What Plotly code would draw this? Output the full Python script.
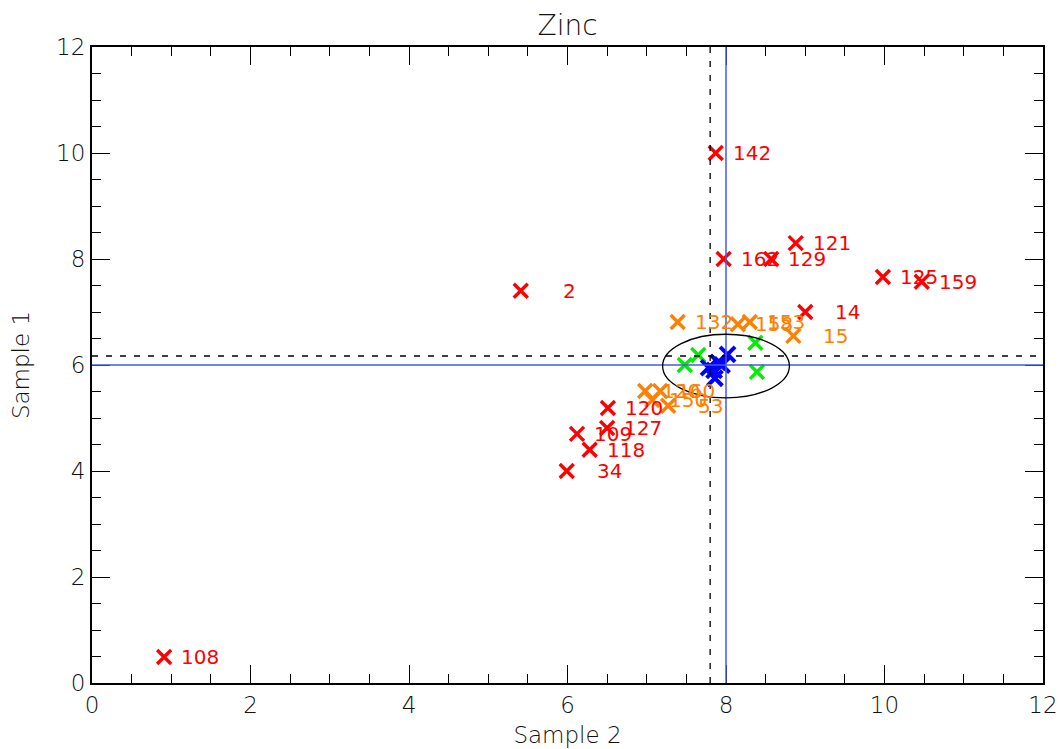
import plotly.graph_objects as go

# ---- data ----
red_x = [0.91, 5.99, 6.28, 6.12, 6.50, 6.51, 5.41, 7.87, 7.97, 8.57, 8.88, 9.98, 10.47, 9.00]
red_y = [0.49, 4.00, 4.40, 4.70, 4.81, 5.19, 7.40, 10.00, 8.00, 8.00, 8.30, 7.66, 7.57, 7.00]
red_labels = ["108", "34", "118", "109", "127", "120", "2", "142", "162", "129", "121", "125", "159", "14"]

orange_x = [7.39, 8.15, 8.30, 8.85, 6.98, 7.17, 7.07, 7.27]
orange_y = [6.81, 6.77, 6.81, 6.55, 5.51, 5.51, 5.34, 5.23]
orange_labels = ["132", "158", "153", "15", "120", "160", "150", "53"]

green_x = [7.48, 7.65, 8.37, 8.39]
green_y = [6.00, 6.19, 6.42, 5.87]

blue_x = [7.78, 7.86, 8.02, 7.95, 7.85, 7.90]
blue_y = [5.95, 5.75, 6.20, 6.00, 5.90, 6.05]

ref_dash_x = 7.80
ref_dash_y = 6.17
ref_blue_x = 8.0
ref_blue_y = 6.0
ellipse_cx, ellipse_cy = 8.0, 5.98
ellipse_rx, ellipse_ry = 0.80, 0.60

title = "Zinc"
x_title = "Sample 2"
y_title = "Sample 1"

# ---- figure ----
RED = "#ff0000"
ORANGE = "#ff8000"
GREEN = "#00ee00"
BLUE = "#0000ff"
LINEBLUE = "rgb(70,90,225)"
FONT = "DejaVu Sans"
TXT = "#111"

fig = go.Figure()

def add_group(xs, ys, color, size=14, width=3.4):
    fig.add_trace(go.Scatter(
        x=xs, y=ys, mode="markers", cliponaxis=False,
        marker=dict(symbol="x-thin", size=size, line=dict(color=color, width=width)),
        showlegend=False, hoverinfo="skip"))

shapes = [
    dict(type="line", xref="x", yref="paper", x0=ref_dash_x, x1=ref_dash_x, y0=0, y1=1,
         line=dict(color="black", width=1.3, dash="6px,8px")),
    dict(type="line", xref="paper", yref="y", x0=0, x1=1, y0=ref_dash_y, y1=ref_dash_y,
         line=dict(color="black", width=1.3, dash="6px,8px")),
    dict(type="line", xref="x", yref="paper", x0=ref_blue_x, x1=ref_blue_x, y0=0, y1=1,
         line=dict(color=LINEBLUE, width=1.5)),
    dict(type="line", xref="paper", yref="y", x0=0, x1=1, y0=ref_blue_y, y1=ref_blue_y,
         line=dict(color=LINEBLUE, width=1.5)),
    dict(type="circle", xref="x", yref="y",
         x0=ellipse_cx - ellipse_rx, x1=ellipse_cx + ellipse_rx,
         y0=ellipse_cy - ellipse_ry, y1=ellipse_cy + ellipse_ry,
         line=dict(color="black", width=1.3)),
]

add_group(red_x, red_y, RED)
add_group(orange_x, orange_y, ORANGE)
add_group(green_x, green_y, GREEN)
add_group(blue_x, blue_y, BLUE, size=15, width=4)

annotations = []
for xs, ys, labs, col in [(red_x, red_y, red_labels, RED), (orange_x, orange_y, orange_labels, ORANGE)]:
    for x, y, t in zip(xs, ys, labs):
        annotations.append(dict(x=x, y=y, text=t, showarrow=False, xanchor="right",
                                yanchor="middle", xshift=57, yshift=0,
                                font=dict(family=FONT, size=20, color=col)))

axis_common = dict(
    range=[0, 12], dtick=2, tick0=0, ticks="inside", ticklen=18, tickwidth=1.3,
    tickcolor="black", showline=True, linecolor="black", linewidth=2, mirror="ticks",
    showgrid=False, zeroline=False, automargin=False,
    minor=dict(dtick=0.5, ticks="inside", ticklen=9, tickwidth=1.3, tickcolor="black", showgrid=False),
    tickfont=dict(family=FONT, size=23, color=TXT, weight=300),
)

fig.update_layout(
    width=1061, height=749, autosize=False,
    margin=dict(l=92, r=18, t=47, b=66, autoexpand=False),
    plot_bgcolor="white", paper_bgcolor="white",
    title=dict(text=title, x=0.535, xanchor="center", y=0.966, yanchor="middle",
               font=dict(family=FONT, size=28, color=TXT, weight=300)),
    xaxis=dict(**axis_common, title=dict(text=x_title, standoff=10,
               font=dict(family=FONT, size=23, color=TXT, weight=300))),
    yaxis=dict(**axis_common, title=dict(text=y_title, standoff=20,
               font=dict(family=FONT, size=23, color=TXT, weight=300))),
    shapes=shapes,
    annotations=annotations,
)

fig.write_html("out.html", config=dict(responsive=False),
               post_script="document.body.style.margin='0';")
